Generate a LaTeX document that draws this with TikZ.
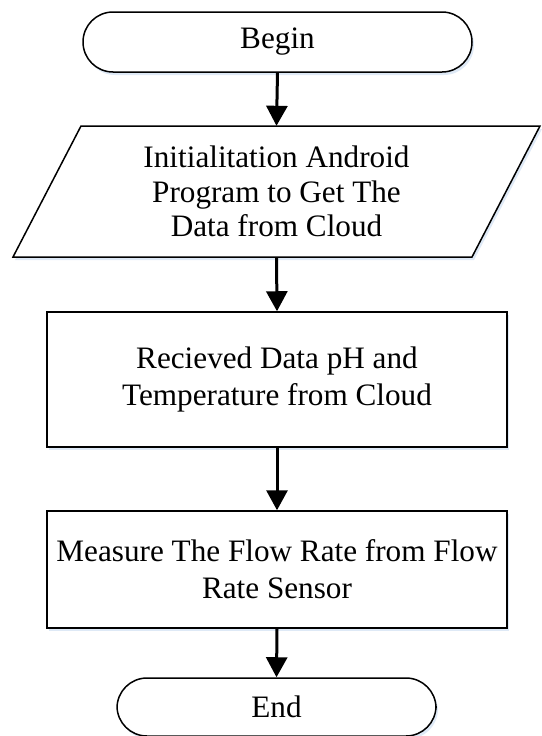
\documentclass[tikz,border=0pt]{standalone}
\usepackage{fontspec}
\setmainfont{Liberation Serif}
\usetikzlibrary{arrows.meta,shadows}
\definecolor{shd}{RGB}{214,228,244}
\tikzset{
  x=1pt,y=-1pt,
  txt/.style={font=\fontsize{31.2}{37}\selectfont,align=center,inner sep=0pt},
  sh/.style={drop shadow={shadow xshift=2pt,shadow yshift=-3pt,fill=shd,opacity=0.8}},
  box/.style={txt,draw,line width=1.5pt,fill=white,sh},
  term/.style={box,rounded corners=30pt},
  flow/.style={line width=3pt,-{Triangle[length=20pt,width=21pt]}},
}
\begin{document}
\begin{tikzpicture}
\useasboundingbox (0,0) rectangle (541,736);
\node[term,minimum width=389pt,minimum height=60pt] (begin) at (277.5,42) {Begin};
\path[draw,line width=1.5pt,fill=white,sh] (81,126) -- (540,126) -- (472,257) -- (13,257) -- cycle;
\node[txt,font=\fontsize{31.2}{34.5}\selectfont,minimum height=131pt] (init) at (276.5,191.5) {Initialitation Android\\Program to Get The\\Data from Cloud};
\node[box,minimum width=460pt,minimum height=135pt] (recv) at (277,379.5) {Recieved Data pH and\\Temperature from Cloud};
\node[box,minimum width=460pt,minimum height=117pt] (meas) at (277,569.5) {Measure The Flow Rate from Flow\\Rate Sensor};
\node[term,minimum width=319pt,minimum height=58pt] (end) at (276.5,707) {End};
\draw[flow] (begin.south) -- (init.north);
\draw[flow] (init.south) -- (recv.north);
\draw[flow] (recv.south) -- (meas.north);
\draw[flow] (meas.south) -- (end.north);
\end{tikzpicture}
\end{document}
